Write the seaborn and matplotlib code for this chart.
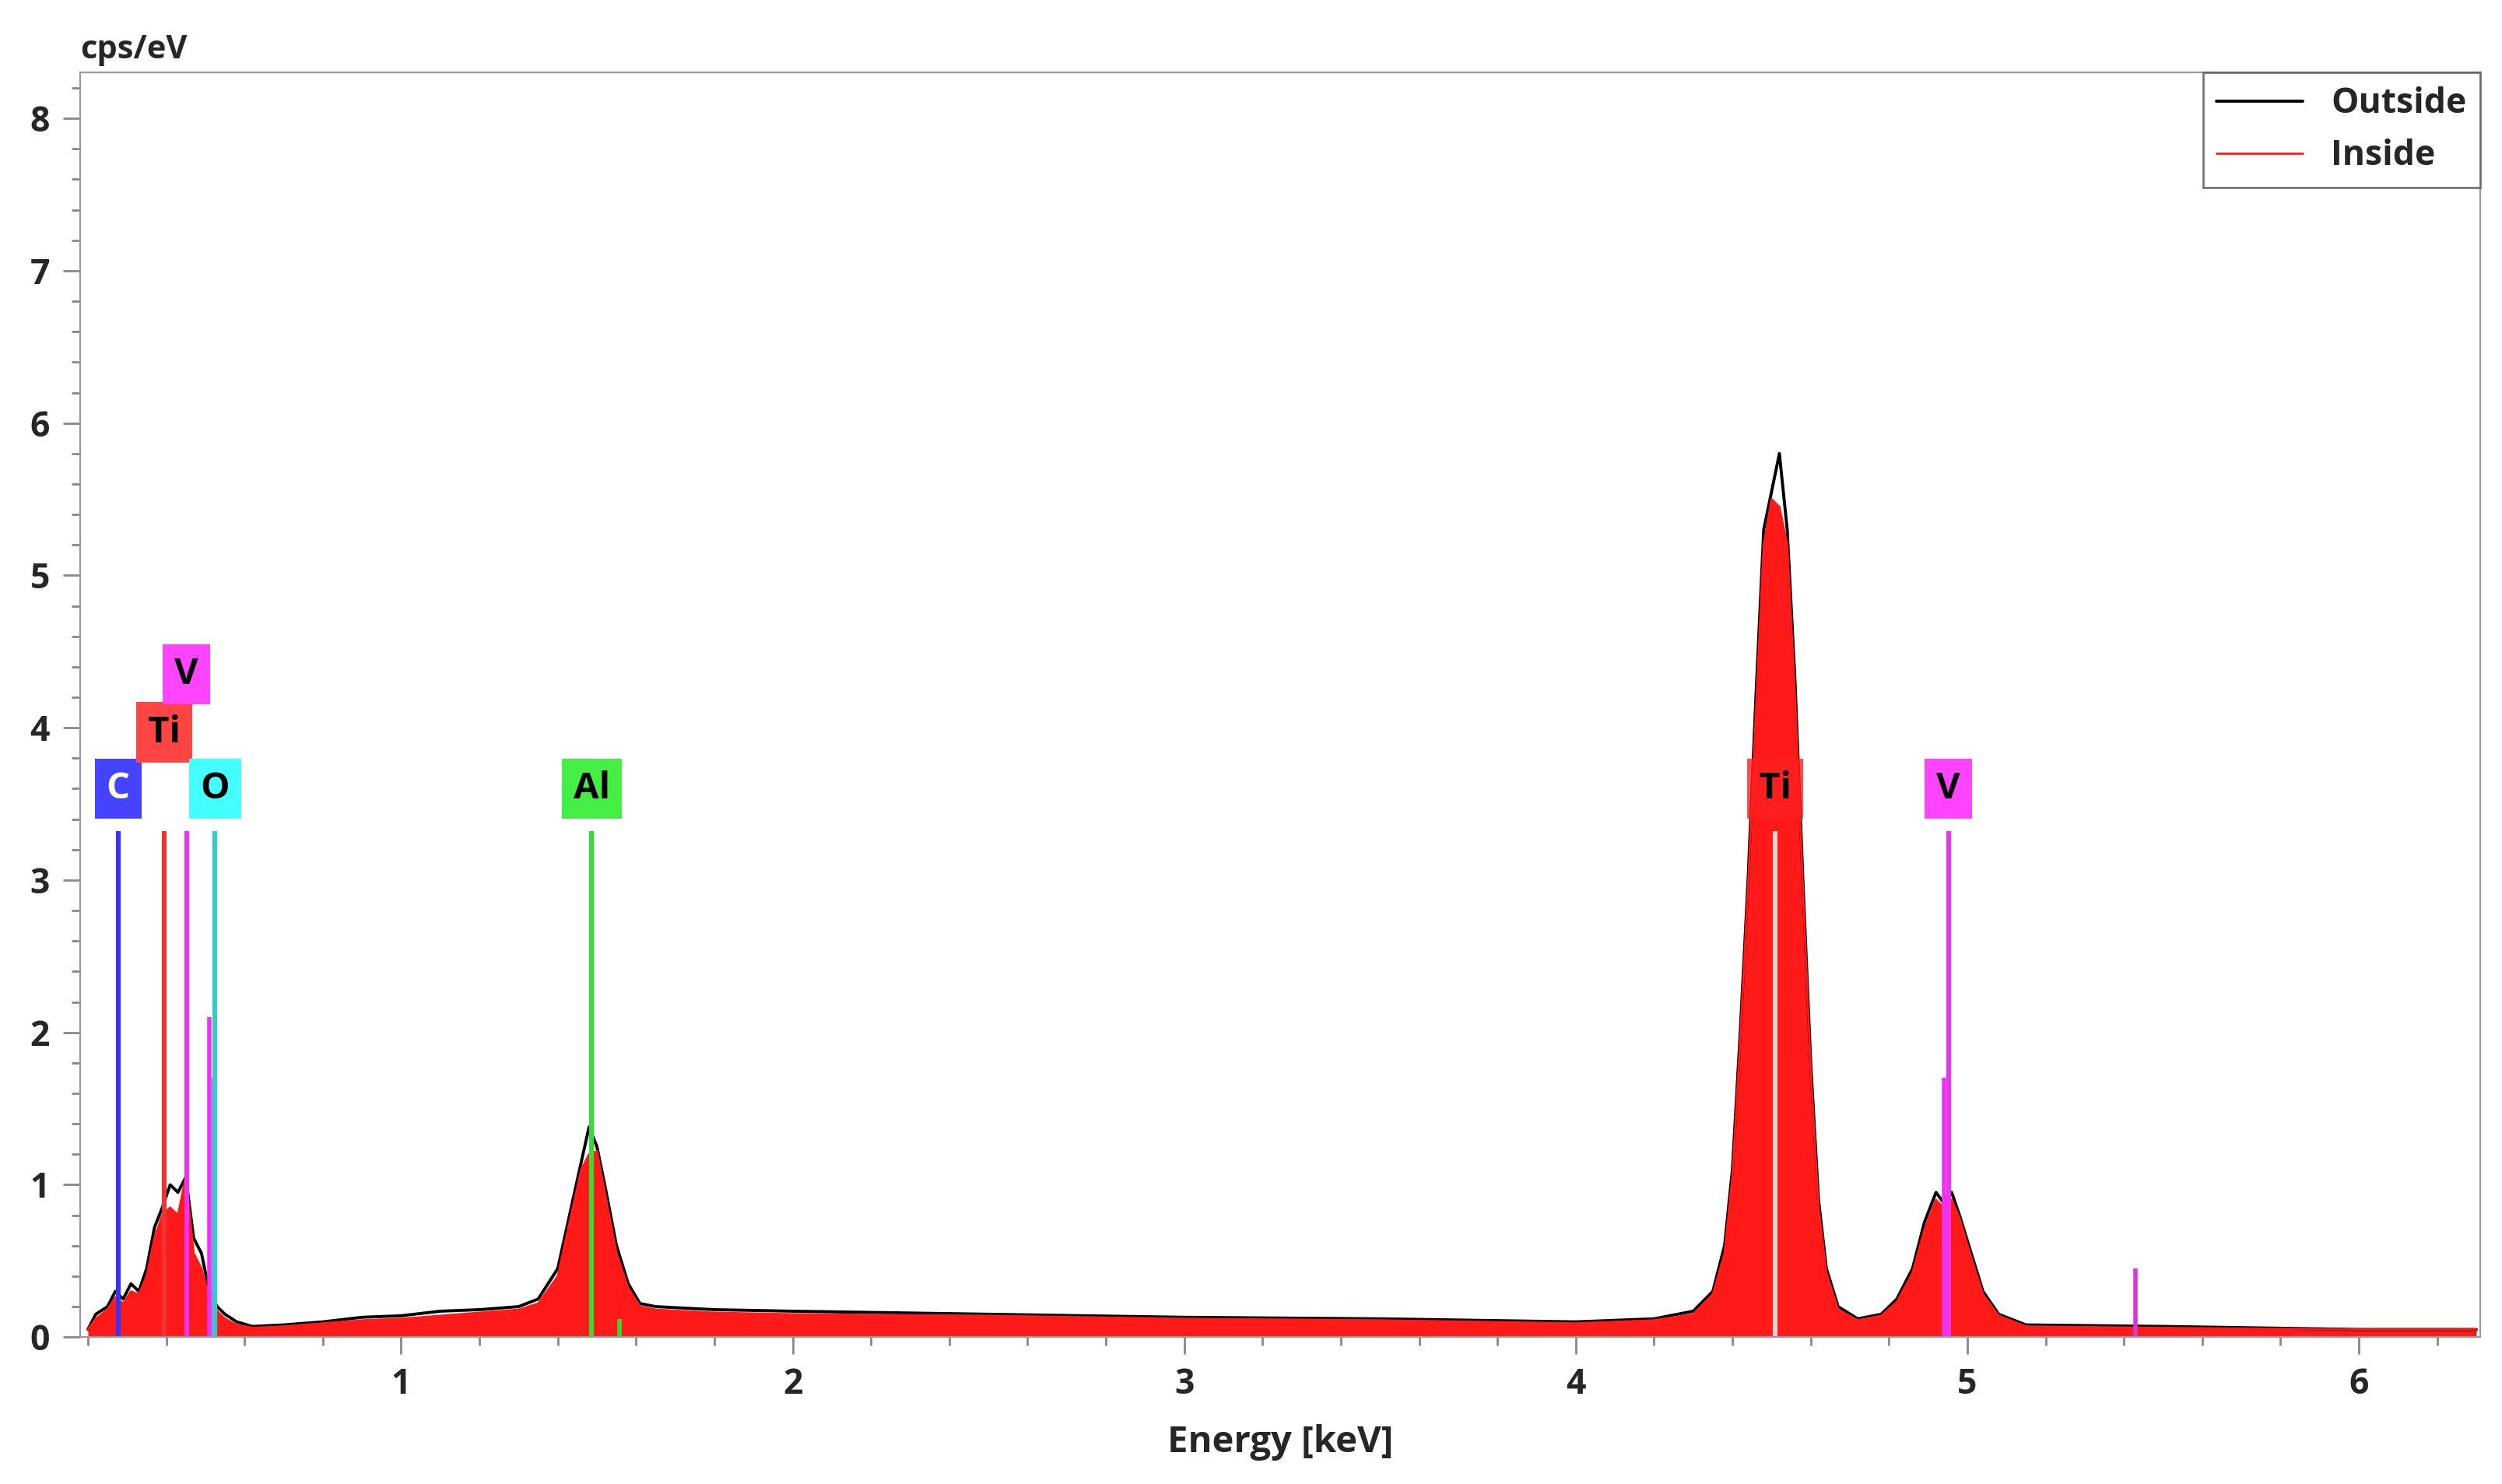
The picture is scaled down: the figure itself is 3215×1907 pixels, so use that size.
import numpy as np
import pandas as pd
import matplotlib
matplotlib.use("Agg")
import matplotlib.pyplot as plt
import seaborn as sns
from matplotlib.ticker import MultipleLocator

# spectrum (keV, cps/eV)
energy = [0.20, 0.22, 0.25, 0.27, 0.29, 0.31, 0.33, 0.35, 0.37, 0.39, 0.41, 0.43, 0.45, 0.47,
          0.49, 0.51, 0.53, 0.55, 0.58, 0.62, 0.70, 0.80, 0.90, 1.00, 1.10, 1.20, 1.30, 1.35,
          1.40, 1.43, 1.46, 1.48, 1.50, 1.52, 1.55, 1.58, 1.61, 1.65, 1.80, 2.00, 2.50, 3.00,
          3.50, 4.00, 4.20, 4.30, 4.35, 4.38, 4.40, 4.42, 4.44, 4.46, 4.48, 4.50, 4.52, 4.54,
          4.56, 4.58, 4.60, 4.62, 4.64, 4.67, 4.72, 4.78, 4.82, 4.86, 4.89, 4.92, 4.94, 4.96,
          4.98, 5.01, 5.04, 5.08, 5.15, 5.50, 6.00, 6.30]
outside = [0.05, 0.15, 0.20, 0.30, 0.25, 0.35, 0.30, 0.45, 0.72, 0.85, 1.00, 0.95, 1.05, 0.65,
           0.55, 0.30, 0.20, 0.15, 0.10, 0.07, 0.08, 0.10, 0.13, 0.14, 0.17, 0.18, 0.20, 0.25,
           0.45, 0.80, 1.15, 1.38, 1.25, 1.00, 0.60, 0.35, 0.22, 0.20, 0.18, 0.17, 0.15, 0.13,
           0.12, 0.10, 0.12, 0.17, 0.30, 0.60, 1.10, 2.00, 3.00, 4.20, 5.30, 5.55, 5.80, 5.30,
           4.30, 3.00, 1.80, 0.90, 0.45, 0.20, 0.12, 0.15, 0.25, 0.45, 0.75, 0.95, 0.88, 0.95,
           0.80, 0.55, 0.30, 0.15, 0.08, 0.07, 0.05, 0.05]
inside = [0.05, 0.12, 0.18, 0.26, 0.22, 0.30, 0.28, 0.40, 0.65, 0.80, 0.85, 0.80, 1.05, 0.55,
          0.45, 0.25, 0.17, 0.12, 0.08, 0.06, 0.07, 0.09, 0.11, 0.12, 0.14, 0.16, 0.18, 0.22,
          0.40, 0.75, 1.10, 1.20, 1.22, 0.95, 0.55, 0.32, 0.20, 0.18, 0.16, 0.15, 0.14, 0.12,
          0.11, 0.09, 0.11, 0.15, 0.28, 0.55, 1.05, 1.95, 2.95, 4.10, 5.20, 5.50, 5.45, 5.20,
          4.20, 2.95, 1.75, 0.85, 0.42, 0.18, 0.11, 0.14, 0.23, 0.42, 0.70, 0.90, 0.85, 0.90,
          0.78, 0.52, 0.28, 0.14, 0.07, 0.06, 0.05, 0.05]

# element markers
el_names = ["C", "Ti", "V", "O", "Al", "Ti", "V"]
el_energy = [0.277, 0.395, 0.452, 0.525, 1.487, 4.51, 4.952]
el_label_y = [3.6, 3.97, 4.35, 3.6, 3.6, 3.6, 3.6]
el_color = ["#4444ff", "#ff4444", "#ff44ff", "#44ffff", "#44ee44", "#ff2020", "#ff44ff"]
el_line = ["#3333ff", "#ee3333", "#ee33ee", "#33cccc", "#33dd33", "#ffcccc", "#ee33ee"]
el_text = ["white", "black", "black", "black", "black", "black", "black"]

# minor line markers
minor_energy = [0.51, 0.52, 1.557, 4.94, 5.43]
minor_height = [2.1, 1.7, 0.12, 1.7, 0.45]
minor_color = ["#ee33ee", "#cc66ff", "#33dd33", "#ee33ee", "#dd33dd"]

df = pd.DataFrame({"energy": energy, "Outside": outside, "Inside": inside})

sns.set_style("white")
plt.rcParams["font.family"] = ["Open Sans", "DejaVu Sans"]

fig, ax = plt.subplots(figsize=(16.08, 9.535), dpi=200)
fig.subplots_adjust(left=0.032, right=0.991, top=0.951, bottom=0.099)

ax.fill_between(df["energy"], df["Inside"], color="#ff1a1a", lw=0)
sns.lineplot(data=df, x="energy", y="Outside", color="black", lw=1.4, ax=ax, label="Outside")
sns.lineplot(data=df, x="energy", y="Inside", color="#ff1a1a", lw=1.0, ax=ax, label="Inside")

for e, h, c in zip(minor_energy, minor_height, minor_color):
    ax.vlines(e, 0, h, color=c, lw=2)
for name, e, ly, bg, lc, tc in zip(el_names, el_energy, el_label_y, el_color, el_line, el_text):
    ax.vlines(e, 0, 3.32, color=lc, lw=2.2)
    ax.text(e, ly, name, ha="center", va="center", fontsize=17, fontweight="bold", color=tc,
            bbox=dict(boxstyle="square,pad=0.32", fc=bg, ec="none",
                      alpha=0.8 if name == "Ti" and e > 4 else 1))

ax.set_xlim(0.18, 6.31)
ax.set_ylim(0, 8.3)
ax.xaxis.set_major_locator(MultipleLocator(1))
ax.xaxis.set_minor_locator(MultipleLocator(0.2))
ax.yaxis.set_major_locator(MultipleLocator(1))
ax.yaxis.set_minor_locator(MultipleLocator(0.2))
ax.tick_params(which="major", length=8, width=1, color="#888888", labelsize=16, bottom=True,
               left=True, pad=6)
ax.tick_params(which="minor", length=4, width=1, color="#888888", bottom=True, left=True)
for lab in ax.get_xticklabels() + ax.get_yticklabels():
    lab.set_fontweight("bold")
for s in ax.spines.values():
    s.set_color("#999999")
ax.set_xlabel("Energy [keV]", fontsize=17, fontweight="bold", labelpad=10)
ax.set_ylabel("")
ax.text(0.0, 1.005, "cps/eV", transform=ax.transAxes, fontsize=15, fontweight="bold",
        ha="left", va="bottom")

leg = ax.legend(loc="upper right", fontsize=16, frameon=True, fancybox=False,
                borderaxespad=0, handlelength=2.5)
leg.get_frame().set_edgecolor("#555555")
for t in leg.get_texts():
    t.set_fontweight("bold")

fig.savefig("out.png", dpi=200)
